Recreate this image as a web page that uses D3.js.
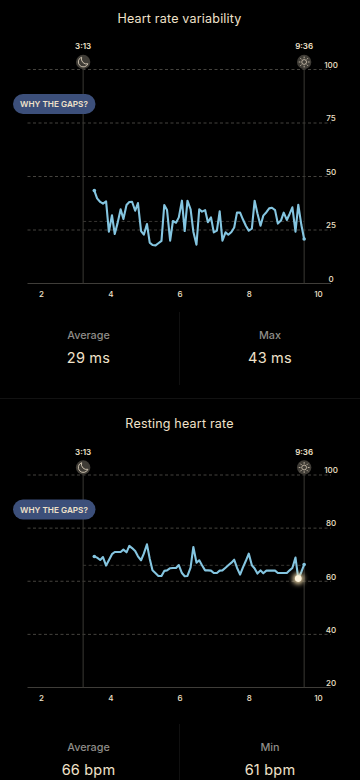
<!DOCTYPE html>
<html>
<head>
<meta charset="utf-8">
<script src="https://cdn.jsdelivr.net/npm/d3@7"></script>
<style>
  html, body { margin: 0; background: #000; overflow: hidden; }
  svg { display: block; font-family: Inter, "Noto Sans", sans-serif; }
  text { fill: #f0e2ca; }
</style>
</head>
<body>
<svg id="chart" width="360" height="780"></svg>
<script>
const hours = [3.54,3.62,3.71,3.79,3.88,3.96,4.05,4.13,4.21,4.30,4.38,4.47,4.55,4.63,4.72,4.80,4.89,4.97,5.06,5.14,5.22,5.31,5.39,5.48,5.56,5.64,5.73,5.81,5.90,5.98,6.07,6.15,6.23,6.32,6.40,6.49,6.57,6.65,6.74,6.82,6.91,6.99,7.08,7.16,7.24,7.33,7.41,7.50,7.58,7.66,7.75,7.83,7.92,8.00,8.09,8.17,8.25,8.34,8.42,8.51,8.59,8.67,8.76,8.84,8.93,9.01,9.10,9.18,9.26,9.35,9.43,9.52,9.60]

const hrvValues = [43.4,39.8,38.1,37.3,38.4,24.2,31.9,23.1,28.1,34.7,30.1,36.7,38.1,38.2,34,37.6,24.5,22.8,27.8,19.1,18,17.8,18.8,19.9,36.7,34.3,20,29.2,28.4,30.9,38.7,24.5,38.7,34.7,24.2,18.1,34.7,33.6,34.3,28.6,30.9,23.9,24.7,33.7,20,23.9,22.8,24.1,26.2,33.1,33.1,30,26.9,24.7,25.6,38.7,32.8,27,31.7,33.3,35.1,35.4,34.3,28,29.4,33.1,29.7,32.5,35.6,24.2,36.8,27.3,20.8]

const rhrValues = [69.3,68.9,68,69.1,65.9,67.9,70.2,71,71,71,71.9,70.9,73.3,72.5,71.4,69.4,67.9,70.4,73.9,68.5,64.1,63,62,62,63.9,64.1,64.9,65,65,66.1,63.1,61.9,62,65.1,72.9,67,67.9,66,64.1,64.1,64,63.1,63.1,64,64.1,65.1,66,67,68.1,65.1,62.5,65.1,67.8,70.4,66,64.8,62.9,64.1,63,64,64,64,64,63.1,63.1,63.1,63.1,64.1,65,68.9,61,63.5,66.3]

const hourTicks = [2, 4, 6, 8, 10]
const hrvTicks = [0, 25, 50, 75, 100]
const rhrTicks = [20, 40, 60, 80, 100]
const sleepStart = 3 + 13 / 60
const sleepEnd = 9 + 36 / 60

const svg = d3.select("#chart")

const x = d3.scaleLinear().domain([2, 10]).range([41, 318])

const defs = svg.append("defs")
const glow = defs.append("filter").attr("id", "glow")
    .attr("x", "-150%").attr("y", "-150%").attr("width", "400%").attr("height", "400%")
glow.append("feGaussianBlur").attr("stdDeviation", 2.5)

function drawMoon(g, cx, cy){
    let icon = g.append("g").attr("transform", `translate(${cx},${cy})`)
    icon.append("circle").attr("r", 7.2).attr("fill", "#3f3c36")
    icon.append("path")
        .attr("d", "M-1.5,-4.8 A5,5 0 1 0 4.8,1.8 A5.2,5.2 0 0 1 -1.5,-4.8 Z")
        .attr("fill", "none")
        .attr("stroke", "#d8ccb8")
        .attr("stroke-width", 0.9)
}

function drawSun(g, cx, cy){
    let icon = g.append("g").attr("transform", `translate(${cx},${cy})`)
    icon.append("circle").attr("r", 7.2).attr("fill", "#3f3c36")
    icon.append("circle").attr("r", 2.4)
        .attr("fill", "none").attr("stroke", "#d8ccb8").attr("stroke-width", 0.8)
    icon.selectAll("line")
        .data(d3.range(8))
        .join("line")
        .attr("x1", 3.7).attr("x2", 5.4)
        .attr("transform", d => `rotate(${d * 45})`)
        .attr("stroke", "#d8ccb8")
        .attr("stroke-width", 0.8)
}

function drawChart(opts){
    let g = svg.append("g")
    let y = d3.scaleLinear().domain(opts.domain).range([opts.bottom, opts.top])

    g.append("text").attr("x", 179.5).attr("y", opts.top - 47)
        .attr("text-anchor", "middle")
        .attr("font-size", 12.5)
        .attr("letter-spacing", 0.2)
        .text(opts.title)

    // dashed grid, the bottom one is the solid axis line
    g.selectAll(".grid")
        .data(opts.ticks.slice(1))
        .join("line")
        .attr("x1", 27.5).attr("x2", 331)
        .attr("y1", d => y(d)).attr("y2", d => y(d))
        .attr("stroke", "#45433e")
        .attr("stroke-dasharray", "3 2.5")

    g.append("line")
        .attr("x1", x(sleepStart)).attr("x2", x(sleepEnd))
        .attr("y1", y(opts.average)).attr("y2", y(opts.average))
        .attr("stroke", "#383632")
        .attr("stroke-dasharray", "3 2.5")

    g.append("line")
        .attr("x1", 27.5).attr("x2", 331)
        .attr("y1", opts.bottom).attr("y2", opts.bottom)
        .attr("stroke", "#3f3d39")
        .attr("stroke-width", 1.2)

    for (let t of [sleepStart, sleepEnd]){
        g.append("line")
            .attr("x1", x(t)).attr("x2", x(t))
            .attr("y1", opts.top - 5).attr("y2", opts.bottom)
            .attr("stroke", "#3a3834")
    }

    drawMoon(g, x(sleepStart), opts.top - 7.5)
    drawSun(g, x(sleepEnd), opts.top - 7.5)

    g.selectAll(".clock")
        .data([[sleepStart, "3:13"], [sleepEnd, "9:36"]])
        .join("text")
        .attr("x", d => x(d[0]))
        .attr("y", opts.top - 20.5)
        .attr("text-anchor", "middle")
        .attr("font-size", 8)
        .attr("font-weight", 600)
        .text(d => d[1])

    let yAxis = d3.axisRight(y).tickValues(opts.ticks).tickSize(0)
    g.append("g").attr("transform", "translate(331,0)").call(yAxis)
        .call(a => a.select(".domain").remove())
        .call(a => a.selectAll("text")
            .attr("x", 0).attr("dy", "-2.2")
            .attr("text-anchor", "middle")
            .attr("font-size", 8)
            .attr("font-weight", 500)
            .attr("font-family", "Inter"))

    let xAxis = d3.axisBottom(x).tickValues(hourTicks).tickSize(0).tickFormat(d3.format("d"))
    g.append("g").attr("transform", `translate(0,${opts.bottom})`).call(xAxis)
        .call(a => a.select(".domain").remove())
        .call(a => a.selectAll("text")
            .attr("y", 7.5)
            .attr("font-size", 8)
            .attr("font-weight", 500)
            .attr("font-family", "Inter"))

    let line = d3.line().x((d, i) => x(hours[i])).y(d => y(d))
    g.append("path")
        .attr("d", line(opts.values))
        .attr("fill", "none")
        .attr("stroke", "#84c5e0")
        .attr("stroke-width", 2.1)
        .attr("stroke-linejoin", "round")

    let ends = [0, opts.values.length - 1]
    g.selectAll(".end")
        .data(ends)
        .join("circle")
        .attr("cx", i => x(hours[i]))
        .attr("cy", i => y(opts.values[i]))
        .attr("r", 1.8)
        .attr("fill", "#84c5e0")

    if (opts.markIndex !== undefined){
        let mx = x(hours[opts.markIndex]), my = y(opts.values[opts.markIndex])
        g.append("circle").attr("cx", mx).attr("cy", my).attr("r", 5.5)
            .attr("fill", "#f5dfae").attr("filter", "url(#glow)")
        g.append("circle").attr("cx", mx).attr("cy", my).attr("r", 3.3)
            .attr("fill", "#fdf4dd")
    }

    // why the gaps button
    let by = opts.top + 24.5
    g.append("rect").attr("x", 13).attr("y", by).attr("width", 82.5).attr("height", 20)
        .attr("rx", 10).attr("fill", "#3c4f7a")
    g.append("text").attr("x", 54).attr("y", by + 13)
        .attr("text-anchor", "middle")
        .attr("font-size", 8.2)
        .attr("font-weight", 600)
        .text("WHY THE GAPS?")

    // stats underneath
    g.append("text").attr("x", 88.5).attr("y", opts.statY)
        .attr("text-anchor", "middle").attr("font-size", 10.8).attr("font-weight", 500)
        .style("fill", "#8f8d88").text("Average")
    g.append("text").attr("x", 88.5).attr("y", opts.statY + 24)
        .attr("text-anchor", "middle").attr("font-size", 14.5).attr("letter-spacing", 0.2)
        .text(opts.averageLabel)
    g.append("text").attr("x", 270).attr("y", opts.statY)
        .attr("text-anchor", "middle").attr("font-size", 10.8).attr("font-weight", 500)
        .style("fill", "#8f8d88").text(opts.otherName)
    g.append("text").attr("x", 270).attr("y", opts.statY + 24)
        .attr("text-anchor", "middle").attr("font-size", 14.5).attr("letter-spacing", 0.2)
        .text(opts.otherLabel)

    g.append("line")
        .attr("x1", 179.5).attr("x2", 179.5)
        .attr("y1", opts.statY - 27).attr("y2", opts.statY + 46)
        .attr("stroke", "#101010")
}

drawChart({
    title: "Heart rate variability",
    values: hrvValues,
    ticks: hrvTicks,
    domain: [0, 100],
    top: 69.5,
    bottom: 283.5,
    average: 29,
    statY: 339,
    averageLabel: "29 ms",
    otherName: "Max",
    otherLabel: "43 ms"
})

svg.append("line")
    .attr("x1", 0).attr("x2", 360)
    .attr("y1", 398.5).attr("y2", 398.5)
    .attr("stroke", "#121212")

drawChart({
    title: "Resting heart rate",
    values: rhrValues,
    ticks: rhrTicks,
    domain: [20, 100],
    top: 475,
    bottom: 687.5,
    average: 66,
    markIndex: 70,
    statY: 751,
    averageLabel: "66 bpm",
    otherName: "Min",
    otherLabel: "61 bpm"
})
</script>
</body>
</html>
